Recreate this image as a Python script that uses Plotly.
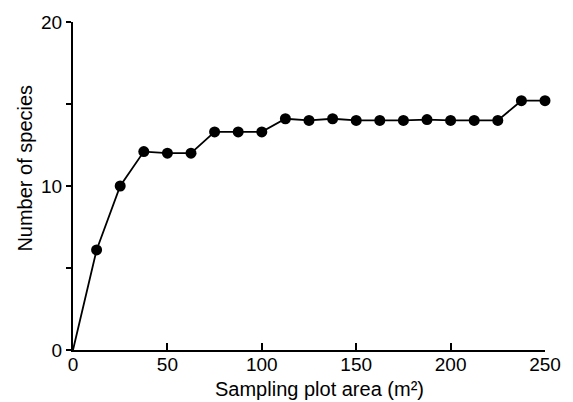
import plotly.graph_objects as go

area = [0, 12.5, 25, 37.5, 50, 62.5, 75, 87.5, 100, 112.5, 125, 137.5, 150,
        162.5, 175, 187.5, 200, 212.5, 225, 237.5, 250]
species = [0, 6.1, 10, 12.1, 12, 12, 13.3, 13.3, 13.3, 14.1, 14, 14.1, 14,
           14, 14, 14.05, 14, 14, 14, 15.2, 15.2]
x_ticks = [0, 50, 100, 150, 200, 250]
y_ticks = [0, 5, 10, 15, 20]
y_labels = ["0", "", "10", "", "20"]

fig = go.Figure()
fig.add_trace(go.Scatter(
    x=area, y=species, mode="lines",
    line=dict(color="#000", width=1.8), cliponaxis=False, showlegend=False))
fig.add_trace(go.Scatter(
    x=area[1:], y=species[1:], mode="markers",
    marker=dict(color="#000", size=11), cliponaxis=False, showlegend=False))

font = dict(family="Liberation Sans, Arial, sans-serif", size=19, color="#000")
fig.update_layout(
    width=573, height=402,
    margin=dict(l=73, r=25, t=16, b=52),
    paper_bgcolor="white", plot_bgcolor="white",
    font=font,
    xaxis=dict(range=[0, 250], tickvals=x_ticks, ticks="inside", ticklen=7,
               tickwidth=1.5, tickcolor="#000", showline=True, linewidth=2,
               linecolor="#000", showgrid=False, zeroline=False,
               tickfont=dict(size=19), ticklabelstandoff=-4),
    yaxis=dict(range=[0, 20], tickvals=y_ticks, ticktext=y_labels,
               ticks="outside", ticklen=5, tickwidth=1.5, tickcolor="#000",
               showline=True, linewidth=2, linecolor="#000", showgrid=False,
               zeroline=False, tickfont=dict(size=19)),
    annotations=[
        dict(text="Sampling plot area (m²)", xref="paper", yref="paper",
             x=0.522, y=-0.12, xanchor="center", yanchor="middle",
             showarrow=False, font=dict(size=20)),
        dict(text="Number of species", xref="paper", yref="paper",
             x=-0.101, y=0.554, xanchor="center", yanchor="middle",
             textangle=-90, showarrow=False, font=dict(size=20)),
    ],
)

fig.write_html("out.html")
